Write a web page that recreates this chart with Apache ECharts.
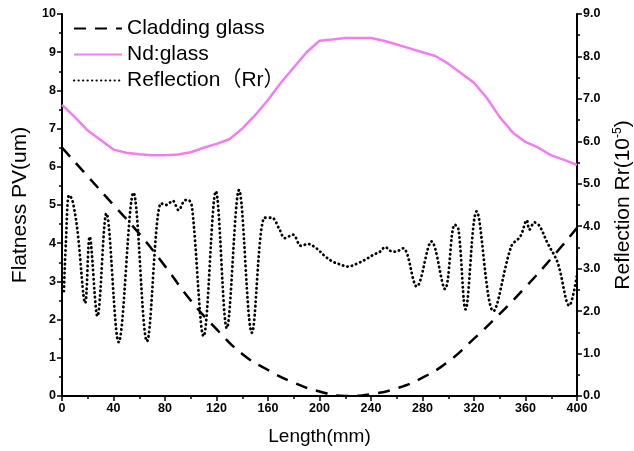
<!DOCTYPE html>
<html>
<head>
<meta charset="utf-8">
<script src="https://cdn.jsdelivr.net/npm/echarts@6/dist/echarts.min.js"></script>
<style>
  html, body { margin: 0; padding: 0; background: #fff; }
  #chart { width: 634px; height: 451px; }
</style>
</head>
<body>
<div id="chart"></div>
<script>
// cladding glass flatness, every 20 mm (left axis)
const claddingX = [0, 20, 40, 60, 80, 100, 120, 140, 160, 180, 200, 220, 240, 260, 280, 300, 320, 340, 360, 380, 400];
const cladding = [6.5, 5.75, 5.0, 4.25, 3.4, 2.5, 1.75, 1.1, 0.68, 0.35, 0.12, 0.0, 0.05, 0.2, 0.48, 0.9, 1.5, 2.15, 2.85, 3.6, 4.4];

// Nd:glass flatness, every 10 mm (left axis)
const ndX = [0, 10, 20, 30, 40, 50, 60, 70, 80, 90, 100, 110, 120, 130, 140, 150, 160, 170, 180, 190, 200,
  210, 220, 230, 240, 250, 260, 270, 280, 290, 300, 310, 320, 330, 340, 350, 360, 370, 380, 390, 400];
const ndGlass = [7.62, 7.3, 6.95, 6.7, 6.45, 6.37, 6.33, 6.3, 6.3, 6.32, 6.38, 6.5, 6.6, 6.72, 7.0, 7.35, 7.75, 8.2, 8.6, 9.0, 9.3,
  9.33, 9.37, 9.37, 9.37, 9.3, 9.2, 9.1, 9.0, 8.9, 8.7, 8.45, 8.2, 7.8, 7.3, 6.9, 6.65, 6.5, 6.3, 6.18, 6.05];

// reflection Rr (right axis, 10^-5)
const reflX = [1.5, 3, 5.5, 8, 12, 18, 21.5, 27.5, 34.5, 44, 55.5, 66, 77, 81, 86, 90.5, 95, 98, 101, 110, 119.5, 128, 137.5, 147.5,
  157.5, 163, 169, 173, 179.5, 185.5, 191, 198, 204, 210, 216, 222, 230, 236, 242, 247, 251, 255, 259, 265, 275.5, 287, 297.5,
  305, 308, 313.5, 322, 335, 349, 356, 361, 363, 367, 371, 377, 385, 394, 400];
const reflY = [2.47, 3.6, 4.73, 4.62, 3.9, 2.19, 3.75, 1.88, 4.3, 1.27, 4.79, 1.29, 4.54, 4.5, 4.6, 4.38, 4.6, 4.62, 4.45, 1.41, 4.82, 1.6, 4.85, 1.49,
  4.2, 4.2, 3.92, 3.72, 3.8, 3.54, 3.58, 3.47, 3.3, 3.17, 3.1, 3.05, 3.13, 3.22, 3.33, 3.4, 3.51, 3.42, 3.4, 3.48, 2.58, 3.64, 2.52,
  4.04, 3.92, 2.04, 4.35, 2.0, 3.53, 3.76, 4.14, 3.92, 4.09, 4.0, 3.61, 3.14, 2.13, 2.85];

const xTicks = { min: 0, max: 400, interval: 40 };
const leftTicks = { min: 0, max: 10, interval: 1 };
const rightTicks = { min: 0, max: 9, interval: 1 };

const FONT = 'Arial, "Liberation Sans", "Noto Sans CJK SC", sans-serif';
const pair = (xs, ys) => xs.map((x, i) => [x, ys[i]]);

const axisCommon = {
  axisLine: { show: true, lineStyle: { color: '#000', width: 2 } },
  axisTick: { show: true, length: 5, lineStyle: { color: '#000', width: 1.5 } },
  minorTick: { show: true, splitNumber: 2, length: 3, lineStyle: { color: '#000', width: 1.5 } },
  splitLine: { show: false },
  axisLabel: { color: '#000', fontFamily: FONT, fontWeight: 'bold', fontSize: 12.5, margin: 6 },
  nameTextStyle: { color: '#000', fontFamily: FONT, fontSize: 19 },
  nameLocation: 'middle'
};

const chart = echarts.init(document.getElementById('chart'));
chart.setOption({
  animation: false,
  backgroundColor: '#fff',
  grid: { left: 62, right: 57, top: 14, bottom: 55, outerBoundsMode: 'none', containLabel: false },
  legend: {
    left: 68, top: 13, orient: 'vertical',
    itemWidth: 48, itemHeight: 14, itemGap: 5,
    itemStyle: { opacity: 0 },
    textStyle: { color: '#000', fontFamily: FONT, fontSize: 21 },
    data: ['Cladding glass', 'Nd:glass', 'Reflection（Rr）']
  },
  xAxis: Object.assign({}, axisCommon, {
    type: 'value', min: xTicks.min, max: xTicks.max, interval: xTicks.interval,
    name: 'Length(mm)', nameGap: 31
  }),
  yAxis: [
    Object.assign({}, axisCommon, {
      type: 'value', position: 'left', min: leftTicks.min, max: leftTicks.max, interval: leftTicks.interval,
      name: 'Flatness PV(um)', nameGap: 30,
      nameTextStyle: Object.assign({}, axisCommon.nameTextStyle, { fontSize: 21 })
    }),
    Object.assign({}, axisCommon, {
      type: 'value', position: 'right', min: rightTicks.min, max: rightTicks.max, interval: rightTicks.interval,
      axisLabel: Object.assign({}, axisCommon.axisLabel, { formatter: v => v.toFixed(1) }),
      name: 'Reflection Rr(10{sup|-5})', nameGap: 34,
      nameTextStyle: Object.assign({}, axisCommon.nameTextStyle, {
        fontSize: 21,
        rich: { sup: { fontFamily: FONT, fontSize: 12, verticalAlign: 'top', padding: [0, 0, 12, 0], color: '#000' } }
      })
    })
  ],
  series: [
    {
      name: 'Cladding glass', type: 'line', yAxisIndex: 0, smooth: true, symbol: 'none',
      data: pair(claddingX, cladding),
      lineStyle: { color: '#000', width: 2.5, type: [12, 9] },
      itemStyle: { color: '#000' }
    },
    {
      name: 'Nd:glass', type: 'line', yAxisIndex: 0, symbol: 'none',
      data: pair(ndX, ndGlass),
      lineStyle: { color: '#f47cf2', width: 2.5 },
      itemStyle: { color: '#f47cf2' }
    },
    {
      name: 'Reflection（Rr）', type: 'line', yAxisIndex: 1, smooth: 0.35, symbol: 'none',
      data: pair(reflX, reflY),
      lineStyle: { color: '#000', width: 2.8, type: [0.3, 4.2], cap: 'round' },
      itemStyle: { color: '#000' }
    }
  ]
});
</script>
</body>
</html>
